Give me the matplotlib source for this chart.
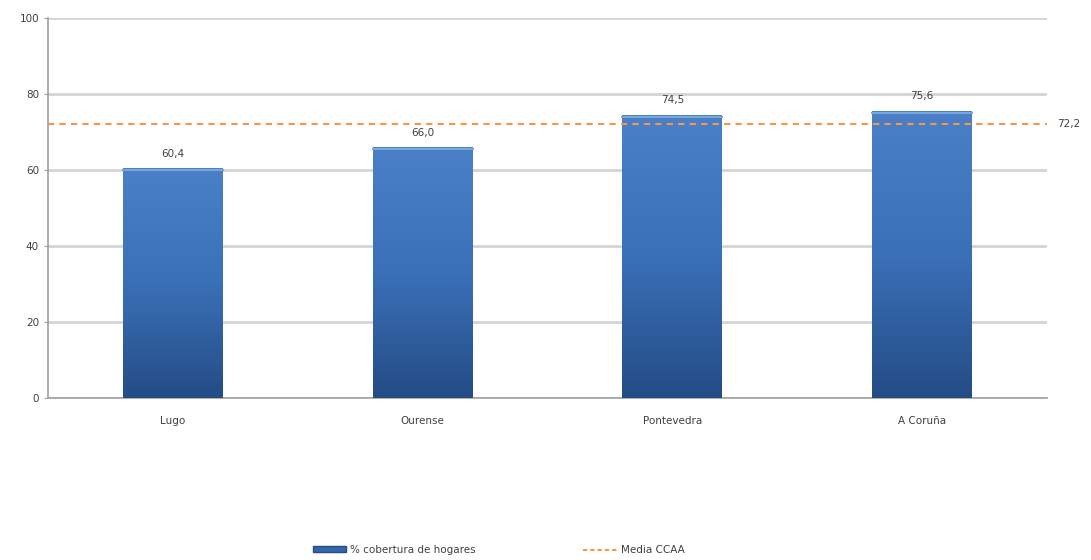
import numpy as np
import matplotlib.pyplot as plt
from matplotlib.colors import LinearSegmentedColormap
from matplotlib.lines import Line2D
from matplotlib.patches import Patch

# Data
provincias = ["Lugo", "Ourense", "Pontevedra", "A Coruña"]
cobertura = [60.4, 66.0, 74.5, 75.6]
media_ccaa = 72.2

fig = plt.figure(figsize=(10.91, 5.60), dpi=100)
ax = fig.add_axes([0.044, 0.289, 0.9157, 0.679])

x = np.arange(len(provincias))
bars = ax.bar(x, cobertura, width=0.4, color="#3566a8", zorder=3)

# vertical gradient on each bar
cmap = LinearSegmentedColormap.from_list("blu", ["#244c85", "#3a70b8", "#4a80c8"])
grad = np.linspace(0, 1, 256).reshape(-1, 1)
for b in bars:
    bx, by = b.get_x(), b.get_y()
    w, h = b.get_width(), b.get_height()
    im = ax.imshow(grad, cmap=cmap, aspect="auto", origin="lower",
                   extent=[bx, bx + w, by, by + h], zorder=3)
    im.set_clip_path(b)
    ax.plot([bx, bx + w], [by + h - 0.5, by + h - 0.5], color="#7aa6de", lw=1.5, zorder=4)

ax.axhline(media_ccaa, color="#f79646", ls=(0, (3, 2.5)), lw=1.5, zorder=5)
ax.text(1.01, media_ccaa, "72,2", transform=ax.get_yaxis_transform(),
        va="center", ha="left", fontsize=7.5, color="#404040")

for xi, v in zip(x, cobertura):
    ax.text(xi, v + 2.5, f"{v:.1f}".replace(".", ","), ha="center", va="bottom",
            fontsize=7.5, color="#404040", zorder=6)

ax.set_xlim(-0.5, len(provincias) - 0.5)
ax.set_ylim(0, 100)
ax.set_yticks(np.arange(0, 101, 20))
ax.set_xticks(x)
ax.set_xticklabels(provincias)
ax.grid(axis="y", color="#d4d4d4", lw=2, zorder=0)
ax.set_axisbelow(True)
for s in ["top", "right"]:
    ax.spines[s].set_visible(False)
for s in ["left", "bottom"]:
    ax.spines[s].set_color("#a0a0a0")
    ax.spines[s].set_linewidth(1.2)
ax.tick_params(axis="both", labelsize=7.5, colors="#404040", length=3, color="#a0a0a0")
ax.tick_params(axis="x", length=0, pad=13)

handles = [Patch(facecolor="#3566a8", edgecolor="#244c85"),
           Line2D([0], [0], color="#f79646", ls=(0, (2, 1.5)), lw=1.5)]
leg = fig.legend(handles, ["% cobertura de hogares", "Media CCAA"], loc="center",
                 bbox_to_anchor=(0.457, 0.018), ncol=2, frameon=False, fontsize=7.5,
                 columnspacing=10.3, handlelength=3.2, handleheight=0.5, handletextpad=0.4)
for t in leg.get_texts():
    t.set_color("#404040")

fig.savefig("out.png", dpi=100)
